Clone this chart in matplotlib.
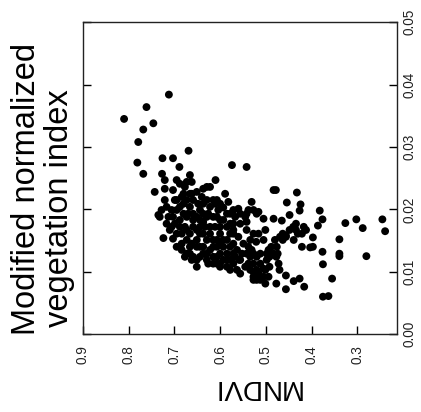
import matplotlib
matplotlib.use("Agg")
import matplotlib.pyplot as plt

plt.rcParams['font.family'] = ['Liberation Sans', 'DejaVu Sans']

mndvi = [0.810, 0.712, 0.761, 0.768, 0.746, 0.779, 0.781, 0.768, 0.669, 0.726,
         0.703, 0.689, 0.574, 0.542, 0.743, 0.727, 0.735, 0.724, 0.610, 0.483,
         0.478, 0.432, 0.454, 0.424, 0.426, 0.382, 0.376, 0.386, 0.326, 0.302,
         0.288, 0.245, 0.239, 0.280, 0.339, 0.339, 0.339, 0.376, 0.375, 0.355,
         0.375, 0.363, 0.416, 0.439, 0.426, 0.456, 0.456, 0.477, 0.403, 0.397,
         0.421, 0.417, 0.440, 0.439, 0.448, 0.456, 0.465, 0.476, 0.472, 0.470,
         0.483, 0.505, 0.501, 0.516, 0.531, 0.542, 0.560, 0.494, 0.492, 0.505,
         0.501, 0.494, 0.520, 0.527, 0.527, 0.534, 0.521, 0.520, 0.538, 0.542,
         0.542, 0.560, 0.556, 0.571, 0.558, 0.556, 0.545, 0.578, 0.571, 0.582,
         0.589, 0.593, 0.600, 0.600, 0.593, 0.585, 0.600, 0.607, 0.615, 0.622,
         0.629, 0.622, 0.615, 0.626, 0.637, 0.644, 0.651, 0.659, 0.651, 0.666,
         0.673, 0.673, 0.673, 0.666, 0.659, 0.651, 0.662, 0.666, 0.677, 0.684,
         0.688, 0.688, 0.695, 0.695, 0.703, 0.710, 0.713, 0.717, 0.721, 0.721,
         0.721, 0.703, 0.699, 0.706, 0.728, 0.732, 0.688, 0.695, 0.637, 0.640,
         0.622, 0.607, 0.604, 0.611, 0.578, 0.571, 0.585, 0.571, 0.578, 0.563,
         0.600, 0.615, 0.637, 0.629, 0.644, 0.666, 0.659, 0.651, 0.644, 0.637,
         0.629, 0.622, 0.611, 0.629, 0.644, 0.659, 0.673, 0.680, 0.662, 0.670,
         0.677, 0.684, 0.684, 0.673, 0.662, 0.651, 0.644, 0.637, 0.633, 0.622,
         0.615, 0.607, 0.600, 0.593, 0.585, 0.578, 0.585, 0.593, 0.607, 0.571,
         0.563, 0.552, 0.549, 0.542, 0.531, 0.534, 0.527, 0.516, 0.505, 0.512,
         0.527, 0.512, 0.516, 0.527, 0.505, 0.498, 0.492, 0.488, 0.477, 0.474,
         0.463, 0.456, 0.448, 0.434, 0.434, 0.430, 0.412, 0.421, 0.397, 0.545,
         0.538, 0.527, 0.520, 0.556, 0.571, 0.567, 0.585, 0.571, 0.578, 0.607,
         0.629, 0.666, 0.673, 0.680, 0.695, 0.695, 0.703, 0.717, 0.706, 0.699,
         0.688, 0.680, 0.684, 0.677, 0.662, 0.651, 0.637, 0.626, 0.615, 0.600,
         0.585, 0.556, 0.538, 0.534, 0.527, 0.512, 0.520, 0.501, 0.498, 0.483,
         0.480, 0.469, 0.463, 0.644, 0.659, 0.637, 0.615, 0.600, 0.648, 0.651,
         0.666, 0.629, 0.607, 0.593, 0.578, 0.567, 0.600]

index = [0.0345, 0.0384, 0.0364, 0.0328, 0.0338, 0.0308, 0.0275, 0.0257, 0.0294, 0.0282,
         0.0282, 0.0268, 0.0271, 0.0268, 0.0228, 0.0257, 0.0191, 0.0154, 0.0247, 0.0231,
         0.0231, 0.0227, 0.0211, 0.0208, 0.0198, 0.0198, 0.0184, 0.0174, 0.0178, 0.0184,
         0.0170, 0.0184, 0.0165, 0.0125, 0.0152, 0.0129, 0.0125, 0.0132, 0.0112, 0.0089,
         0.0060, 0.0061, 0.0076, 0.0085, 0.0089, 0.0072, 0.0094, 0.0081, 0.0139, 0.0155,
         0.0161, 0.0172, 0.0172, 0.0151, 0.0191, 0.0158, 0.0182, 0.0140, 0.0113, 0.0103,
         0.0185, 0.0185, 0.0167, 0.0196, 0.0212, 0.0193, 0.0201, 0.0135, 0.0108, 0.0105,
         0.0081, 0.0092, 0.0087, 0.0100, 0.0113, 0.0124, 0.0148, 0.0124, 0.0140, 0.0167,
         0.0180, 0.0156, 0.0177, 0.0161, 0.0119, 0.0097, 0.0108, 0.0119, 0.0129, 0.0212,
         0.0225, 0.0203, 0.0183, 0.0161, 0.0140, 0.0108, 0.0113, 0.0124, 0.0113, 0.0135,
         0.0151, 0.0172, 0.0188, 0.0193, 0.0180, 0.0161, 0.0140, 0.0124, 0.0108, 0.0129,
         0.0151, 0.0167, 0.0188, 0.0204, 0.0215, 0.0228, 0.0244, 0.0255, 0.0236, 0.0220,
         0.0204, 0.0183, 0.0161, 0.0140, 0.0153, 0.0167, 0.0188, 0.0204, 0.0215, 0.0233,
         0.0247, 0.0231, 0.0215, 0.0199, 0.0199, 0.0188, 0.0241, 0.0247, 0.0233, 0.0220,
         0.0236, 0.0215, 0.0199, 0.0172, 0.0193, 0.0177, 0.0151, 0.0145, 0.0103, 0.0103,
         0.0145, 0.0151, 0.0140, 0.0119, 0.0124, 0.0161, 0.0172, 0.0188, 0.0199, 0.0209,
         0.0215, 0.0204, 0.0209, 0.0188, 0.0183, 0.0193, 0.0215, 0.0225, 0.0225, 0.0193,
         0.0172, 0.0161, 0.0145, 0.0129, 0.0145, 0.0151, 0.0140, 0.0161, 0.0172, 0.0161,
         0.0140, 0.0151, 0.0172, 0.0183, 0.0172, 0.0161, 0.0129, 0.0119, 0.0113, 0.0113,
         0.0135, 0.0129, 0.0145, 0.0129, 0.0135, 0.0151, 0.0161, 0.0161, 0.0151, 0.0129,
         0.0129, 0.0113, 0.0097, 0.0087, 0.0092, 0.0119, 0.0124, 0.0140, 0.0124, 0.0129,
         0.0151, 0.0156, 0.0167, 0.0177, 0.0167, 0.0161, 0.0167, 0.0140, 0.0140, 0.0188,
         0.0199, 0.0199, 0.0193, 0.0193, 0.0199, 0.0188, 0.0193, 0.0167, 0.0177, 0.0188,
         0.0236, 0.0225, 0.0244, 0.0209, 0.0215, 0.0199, 0.0188, 0.0177, 0.0172, 0.0177,
         0.0172, 0.0193, 0.0135, 0.0124, 0.0119, 0.0119, 0.0129, 0.0113, 0.0124, 0.0108,
         0.0119, 0.0119, 0.0113, 0.0103, 0.0092, 0.0087, 0.0103, 0.0103, 0.0129, 0.0129,
         0.0151, 0.0156, 0.0161, 0.0172, 0.0183, 0.0193, 0.0215, 0.0209, 0.0209, 0.0167,
         0.0140, 0.0129, 0.0140, 0.0151, 0.0140, 0.0124, 0.0129]

x_ticks = [0.9, 0.8, 0.7, 0.6, 0.5, 0.4, 0.3]
x_tick_labels = ["0.9", "0.8", "0.7", "0.6", "0.5", "0.4", "0.3"]
y_ticks = [0.00, 0.01, 0.02, 0.03, 0.04, 0.05]
y_tick_labels = ["0.00", "0.01", "0.02", "0.03", "0.04", "0.05"]

n = min(len(mndvi), len(index))
mndvi = mndvi[:n]
index = index[:n]

fig = plt.figure(figsize=(4.21, 4.12), dpi=100)
ax = fig.add_axes([0.197, 0.189, 0.746, 0.757])
ax.scatter(mndvi, index, s=32, c='black', edgecolors='none', zorder=3)

ax.set_xlim(0.9, 0.213)
ax.set_ylim(0.0, 0.05)

ax.set_xticks(x_ticks)
ax.set_xticklabels(x_tick_labels, rotation=90, fontsize=9.8, color='#222222')
ax.set_yticks(y_ticks)
ax.set_yticklabels(y_tick_labels, rotation=90, fontsize=9.8, color='#222222', va='center')

ax.tick_params(axis='x', direction='in', length=6, width=1, pad=8, top=False)
ax.tick_params(axis='y', direction='in', length=5.5, width=1, pad=4,
               left=True, right=True, labelleft=False, labelright=True)
for sp in ax.spines.values():
    sp.set_linewidth(1.0)
    sp.set_color('#222222')

fig.text(35 / 421, (412 - 188.5) / 412, "Modified normalized", rotation=90,
         rotation_mode='anchor', ha='center', va='baseline', fontsize=23.5)
fig.text(68 / 421, (412 - 208) / 412, "vegetation index", rotation=90,
         rotation_mode='anchor', ha='center', va='baseline', fontsize=23.5)
fig.text(256.5 / 421, (412 - 380) / 412, "MNDVI", rotation=180,
         rotation_mode='anchor', ha='center', va='baseline', fontsize=20)

fig.savefig("out.png", dpi=100)
